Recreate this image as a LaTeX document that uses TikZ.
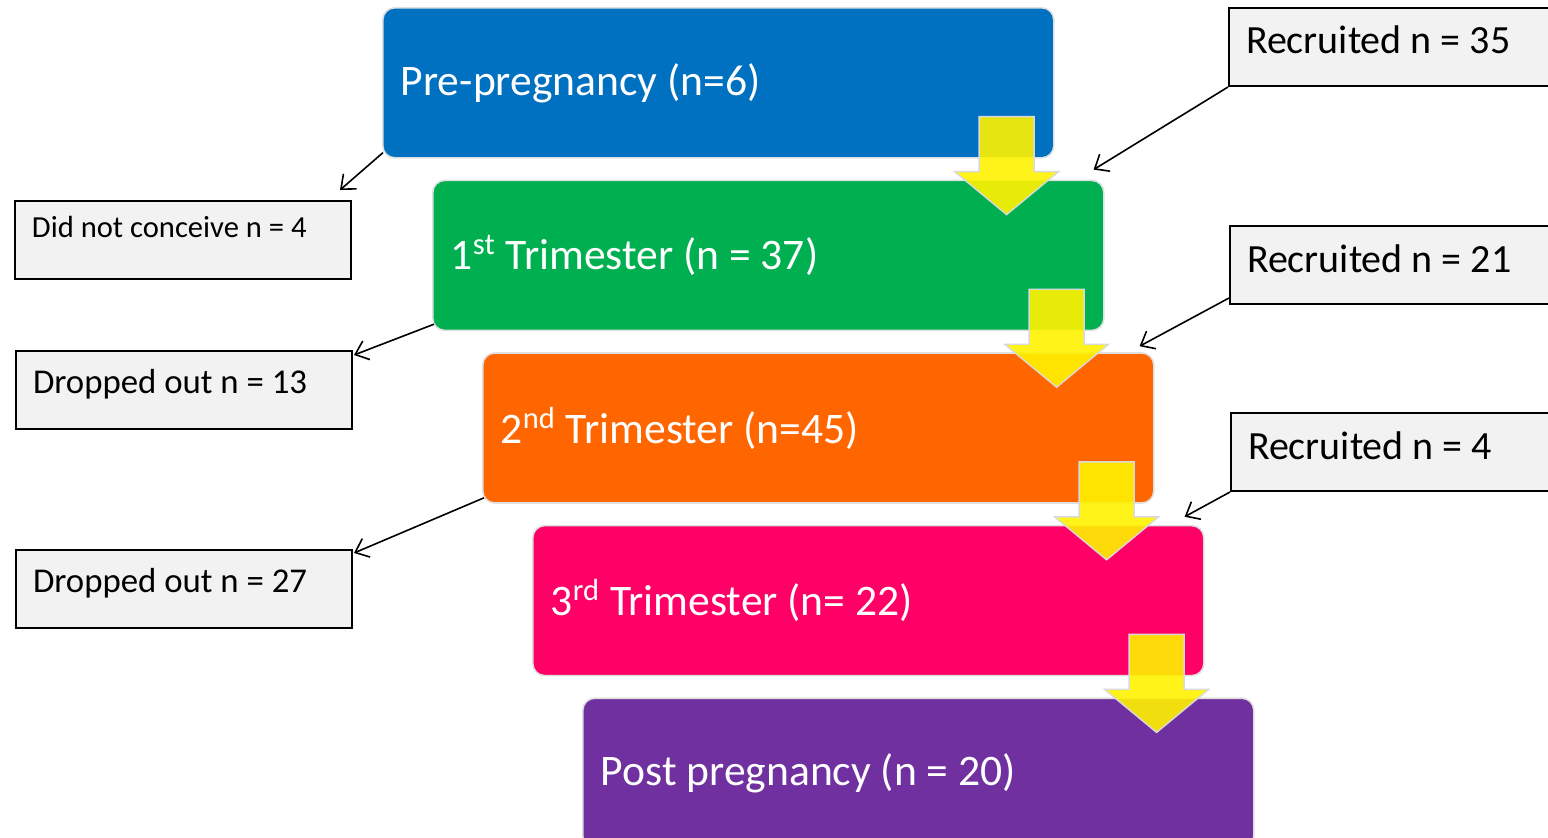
\documentclass[tikz,border=0pt]{standalone}
\usepackage{fontspec}
\setmainfont{Carlito}
\usetikzlibrary{calc,positioning,arrows.meta}

\definecolor{preblue}{HTML}{0070C0}
\definecolor{trigreen}{HTML}{00B050}
\definecolor{triorange}{HTML}{FF6600}
\definecolor{tripink}{HTML}{FF0066}
\definecolor{postpurple}{HTML}{7030A0}
\definecolor{notegrey}{HTML}{F2F2F2}

\begin{document}
\begin{tikzpicture}[x=0.5pt,y=-0.5pt,
	stage/.style={draw=gray!25, line width=0.8pt, rounded corners=6pt, text=white,
		anchor=north west, text width=317.5pt, inner xsep=9pt, inner ysep=0pt,
		minimum height=75pt, align=flush left, font=\fontsize{21.8}{25}\selectfont},
	note/.style={draw=black, line width=1pt, fill=notegrey, anchor=north west,
		align=flush left, inner xsep=8.5pt, inner ysep=0pt},
	link/.style={line width=0.8pt, -{Straight Barb[length=6pt,width=10pt]}},
	yarrow/.style={fill=yellow, fill opacity=0.9, draw=gray!30, line width=0.7pt}]

	\clip (0,0) rectangle (1548,837);
	\useasboundingbox (0,0) rectangle (1548,837);

	% stages
	\node[stage, fill=preblue] (pre) at (382,7) {Pre-pregnancy (n=6)};
	\node[stage, fill=trigreen, below right=10.5pt and 25pt of pre.south west] (first)
		{1\textsuperscript{st} Trimester (n = 37)};
	\node[stage, fill=triorange, below right=10.5pt and 25pt of first.south west] (second)
		{2\textsuperscript{nd} Trimester (n=45)};
	\node[stage, fill=tripink, below right=10.5pt and 25pt of second.south west] (third)
		{3\textsuperscript{rd} Trimester (n= 22)};
	\node[stage, fill=postpurple, below right=10.5pt and 25pt of third.south west] (post)
		{Post pregnancy (n = 20)};

	% side notes
	\node[note, text width=151pt, text height=18pt, text depth=21pt,
		font=\fontsize{15.3}{17}\selectfont] (noconc) at (14,200) {Did not conceive n = 4};
	\node[note, text width=151pt, text height=21pt, text depth=18pt,
		font=\fontsize{17.4}{19}\selectfont] (drop13) at (15,350) {Dropped out n = 13};
	\node[note, text width=151pt, text height=21pt, text depth=18pt,
		font=\fontsize{17.4}{19}\selectfont] (drop27) at (15,549) {Dropped out n = 27};
	\node[note, text width=183pt, text height=22.5pt, text depth=16.5pt,
		font=\fontsize{20}{22}\selectfont] (rec35) at (1228,7) {Recruited n = 35};
	\node[note, text width=183pt, text height=23pt, text depth=16pt,
		font=\fontsize{20}{22}\selectfont] (rec21) at (1229,225) {Recruited n = 21};
	\node[note, text width=183pt, text height=23pt, text depth=16pt,
		font=\fontsize{20}{22}\selectfont] (rec4) at (1230,412) {Recruited n = 4};

	% yellow block arrows
	\foreach \s in {pre,first,second,third}
		\draw[yarrow] ($(\s.south east)+(-75.5,-42)$) -- ++(55,0) -- ++(0,55) -- ++(24.5,0)
			-- ++(-52,43) -- ++(-52,-43) -- ++(24.5,0) -- cycle;

	% dropouts and recruits
	\draw[link] ($(pre.south west)+(1,-6)$) -- ($(noconc.north east)+(-12,-10)$);
	\draw[link] ($(first.south west)+(2,-7)$) -- ($(drop13.north east)+(1,5)$);
	\draw[link] ($(second.south west)+(2,-6)$) -- ($(drop27.north east)+(1,4)$);
	\draw[link] (rec35.south west) -- ($(first.north east)+(-11,-10)$);
	\draw[link] ($(rec21.south west)+(0,-7)$) -- ($(second.north east)+(-15,-6)$);
	\draw[link] (rec4.south west) -- ($(third.north east)+(-20,-8)$);
\end{tikzpicture}
\end{document}
